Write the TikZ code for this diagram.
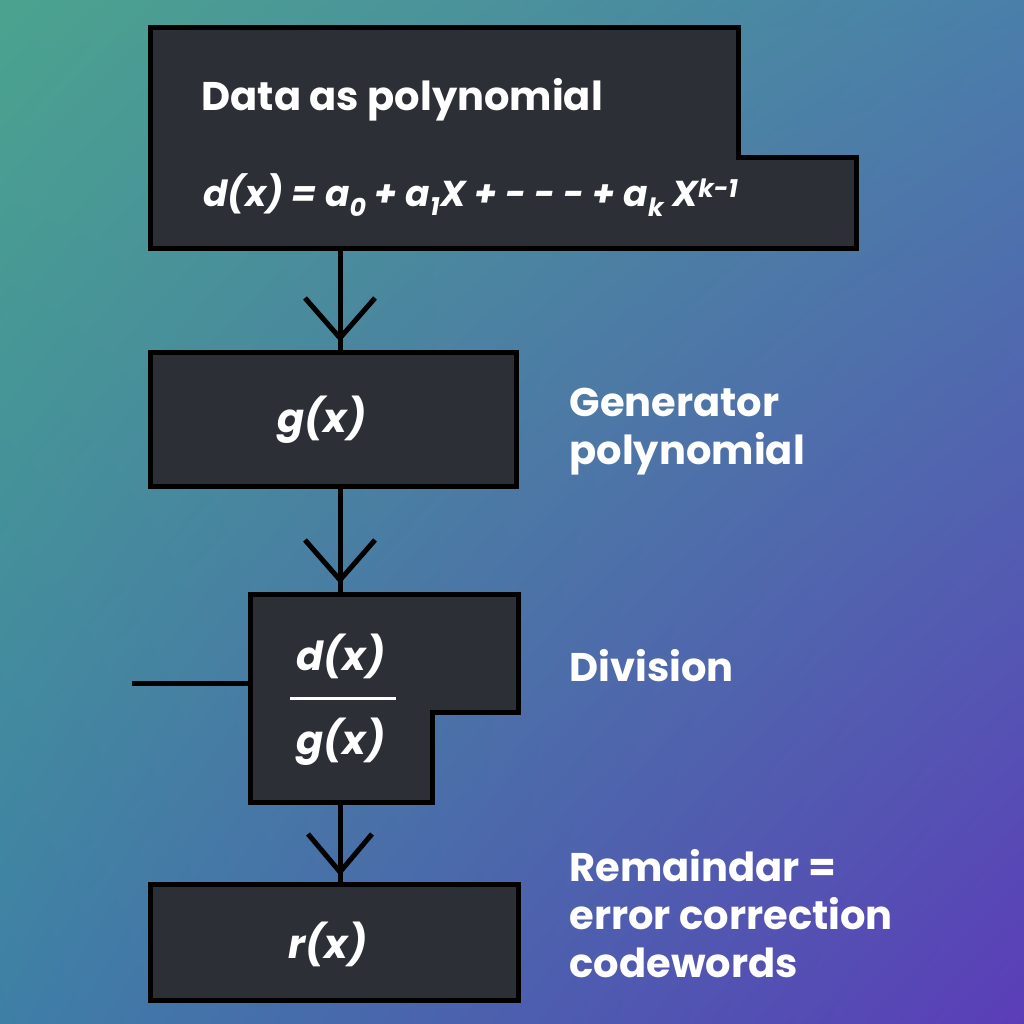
\documentclass[tikz,border=0pt]{standalone}
\usepackage{fontspec}
\usetikzlibrary{shadings}
\setmainfont{Poppins}
\begin{document}
\begin{tikzpicture}[x=1pt,y=-1pt,
  box/.style={draw=black,line width=5pt,fill=boxc,line join=miter},
  lbl/.style={text=white,font=\fontsize{40}{48}\selectfont\bfseries,align=left,anchor=west},
  math/.style={text=white,font=\fontsize{40}{46}\selectfont\bfseries\itshape},
  conn/.style={line width=5pt,draw=black},
  chev/.style={line width=5pt,draw=black}]
\definecolor{boxc}{HTML}{2C3036}
\definecolor{tl}{HTML}{4BA38E}
\definecolor{tr}{HTML}{4A7FAA}
\definecolor{bl}{HTML}{3E7FA6}
\definecolor{br}{HTML}{5B3DB8}
\useasboundingbox (0,0) rectangle (1024,1024);
\shade[upper left=tl,upper right=tr,lower left=bl,lower right=br] (0,0) rectangle (1024,1024);
% boxes
\draw[box] (150,28) -- (738,28) -- (738,158) -- (856,158) -- (856,248) -- (150,248) -- cycle;
\draw[box] (150,352) rectangle (516,486);
\draw[box] (250,594) -- (518,594) -- (518,712) -- (432,712) -- (432,802) -- (250,802) -- cycle;
\draw[box] (150,884) rectangle (518,1000);
\coordinate (top) at (340,248);
\coordinate (gt) at (340,350);
\coordinate (gb) at (340,486);
\coordinate (dt) at (340,592);
\coordinate (db) at (340,802);
\coordinate (rt) at (340,882);
\coordinate (lin) at (132,683);
\coordinate (lin2) at (250,683);
\draw[conn] (top) -- (gt);
\draw[chev] (305,298) -- (340,338) -- (375,298);
\draw[conn] (gb) -- (dt);
\draw[chev] (305,540) -- (340,580) -- (375,540);
\draw[conn] (db) -- (rt);
\draw[chev] (308,834) -- (340,872) -- (372,834);
\draw[conn] (lin) -- (lin2);
% texts
\node[lbl] (t1) at (198,100) {Data as polynomial};
\node[math,anchor=west,font=\fontsize{36}{42}\selectfont\bfseries\itshape] (f) at (200,195) {d(x) = a\textsubscript{0} + a\textsubscript{1}X + - - - + a\textsubscript{k} X\textsuperscript{k-1}};
\node[math] (g) at (322,420) {g(x)};
\node[math] (n1) at (341,656) {d(x)};
\draw[white,line width=3pt] (290,698) -- (396,698);
\node[math] (n2) at (341,742) {g(x)};
\node[math] (r) at (328,944) {r(x)};
\node[lbl] (l1) at (566,432) {Generator\\polynomial};
\node[lbl] (l2) at (566,666) {Division};
\node[lbl] (l3) at (566,914) {Remaindar =\\error correction\\codewords};
\end{tikzpicture}
\end{document}
